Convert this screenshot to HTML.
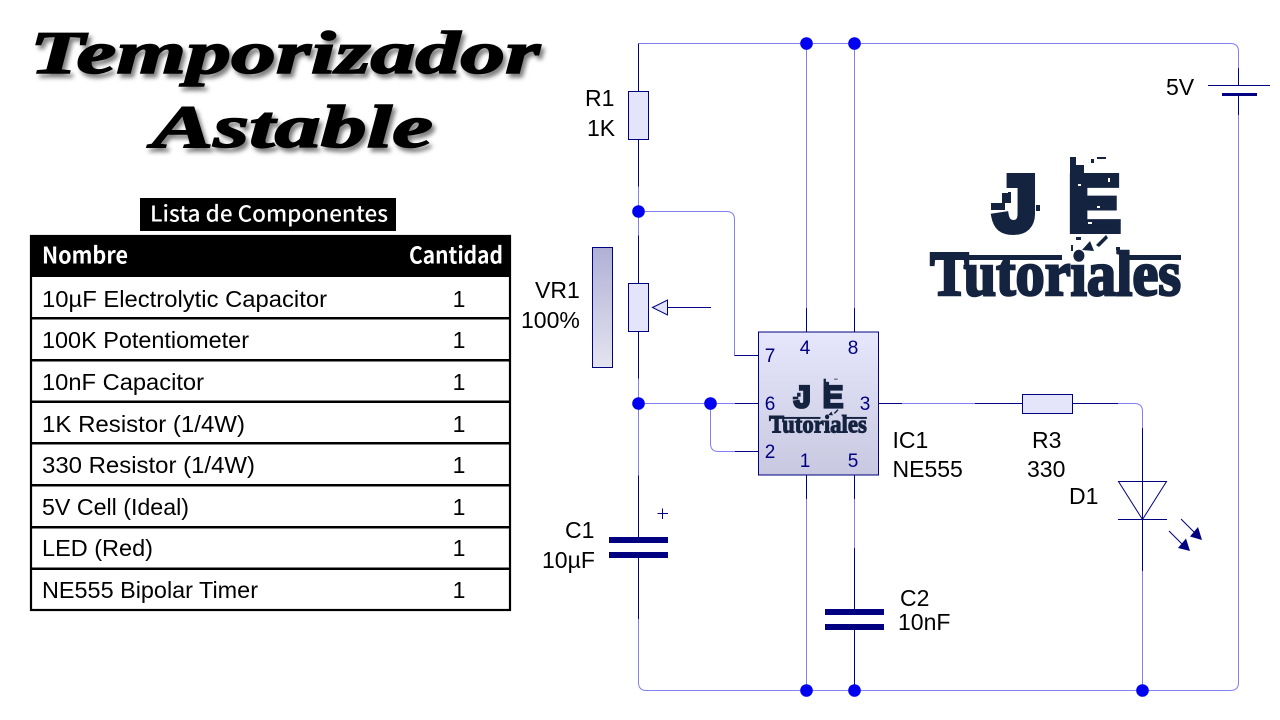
<!DOCTYPE html>
<html><head><meta charset="utf-8"><style>
html,body{margin:0;padding:0;background:#fff}
svg{display:block}
text{font-family:"Liberation Sans",sans-serif}
.l{font-size:23px;fill:#000}
.p{font-size:19px;fill:#000080;text-anchor:middle}
.t{font-size:23px;fill:#000}
.c{font-size:23px;fill:#000;text-anchor:middle}
.w{stroke:#8080f0;fill:none;stroke-width:1}
.n{stroke:#000080;fill:none;stroke-width:1}
.ttl{font-family:"Liberation Serif",serif;font-weight:bold;font-style:italic;font-size:60px;fill:#000;stroke:#000;stroke-width:1.5;filter:drop-shadow(3px 4px 2px rgba(0,0,0,.5))}
.h{font-family:"Noto Sans CJK JP","Liberation Sans",sans-serif;fill:#fff}
.lg{font-weight:bold;fill:#14233f;stroke:#14233f;stroke-width:6}
.lt{font-family:"Liberation Serif",serif;font-weight:bold;font-size:64px;fill:#14233f;stroke:#14233f;stroke-width:2.5}
</style></head><body>
<svg width="1280" height="720" viewBox="0 0 1280 720" xmlns="http://www.w3.org/2000/svg">
<defs>
<linearGradient id="ic" x1="0" y1="0" x2="0" y2="1"><stop offset="0" stop-color="#e6e6fc"/><stop offset="1" stop-color="#c8c8e0"/></linearGradient>
<linearGradient id="sl" x1="0" y1="0" x2="0" y2="1"><stop offset="0" stop-color="#b0b0d6"/><stop offset="1" stop-color="#e4e4f0"/></linearGradient>
</defs>
<rect width="1280" height="720" fill="#fff"/>

<!-- Title -->
<text class="ttl" x="30" y="73" textLength="510" lengthAdjust="spacingAndGlyphs">Temporizador</text>
<text class="ttl" x="152" y="147" textLength="281" lengthAdjust="spacingAndGlyphs">Astable</text>

<!-- Table -->
<rect x="140" y="198" width="256" height="33" fill="#000"/>
<text class="h" x="150" y="221.5" font-size="22" font-weight="500" textLength="238" lengthAdjust="spacingAndGlyphs">Lista de Componentes</text>
<rect x="30" y="235" width="481" height="42" fill="#000"/>
<text class="h" x="42" y="263.5" font-size="23" font-weight="700" textLength="86" lengthAdjust="spacingAndGlyphs">Nombre</text>
<text class="h" x="409" y="263.5" font-size="23" font-weight="700" textLength="94" lengthAdjust="spacingAndGlyphs">Cantidad</text>
<rect x="31" y="236" width="479" height="374" fill="none" stroke="#000" stroke-width="2.2"/>
<g fill="#000">
<rect x="30" y="317" width="481" height="2.5"/><rect x="30" y="359" width="481" height="2.5"/>
<rect x="30" y="400.5" width="481" height="2.5"/><rect x="30" y="442" width="481" height="2.5"/>
<rect x="30" y="484" width="481" height="2.5"/><rect x="30" y="526" width="481" height="2.5"/>
<rect x="30" y="567.5" width="481" height="2.5"/>
</g>
<text class="t" x="42" y="307" textLength="285" lengthAdjust="spacingAndGlyphs">10µF Electrolytic Capacitor</text><text class="c" x="459" y="307">1</text>
<text class="t" x="42" y="348" textLength="207" lengthAdjust="spacingAndGlyphs">100K Potentiometer</text><text class="c" x="459" y="348">1</text>
<text class="t" x="42" y="390" textLength="162" lengthAdjust="spacingAndGlyphs">10nF Capacitor</text><text class="c" x="459" y="390">1</text>
<text class="t" x="42" y="432" textLength="203" lengthAdjust="spacingAndGlyphs">1K Resistor (1/4W)</text><text class="c" x="459" y="432">1</text>
<text class="t" x="42" y="473" textLength="213" lengthAdjust="spacingAndGlyphs">330 Resistor (1/4W)</text><text class="c" x="459" y="473">1</text>
<text class="t" x="42" y="515" textLength="147" lengthAdjust="spacingAndGlyphs">5V Cell (Ideal)</text><text class="c" x="459" y="515">1</text>
<text class="t" x="42" y="556" textLength="111" lengthAdjust="spacingAndGlyphs">LED (Red)</text><text class="c" x="459" y="556">1</text>
<text class="t" x="42" y="598" textLength="216" lengthAdjust="spacingAndGlyphs">NE555 Bipolar Timer</text><text class="c" x="459" y="598">1</text>

<!-- Light wires -->
<path class="w" d="M638.5 43.5H1230.5Q1238.5 43.5 1238.5 51.5V68M1238.5 115V682.5Q1238.5 690.5 1230.5 690.5H646.5Q638.5 690.5 638.5 682.5V619M638.5 475.5V186.5"/>
<path class="w" d="M638.5 211.5H726.5Q734.5 211.5 734.5 219.5V355.5"/>
<path class="w" d="M638.5 403.5H735"/>
<path class="w" d="M710.5 403.5V443.5Q710.5 451.5 718.5 451.5H735"/>
<path class="w" d="M806.5 43.5V308M854.5 43.5V308M806.5 499V690.5M854.5 499V548"/>
<path class="w" d="M902 403.5H975M1118 403.5H1134.5Q1142.5 403.5 1142.5 411.5V428M1142.5 571V690.5"/>

<!-- Navy leads -->
<path class="n" d="M638.5 43.5V91.5M638.5 139.5V186.5"/>
<path class="n" d="M638.5 235.5V283.5M638.5 331.5V378.5"/>
<path class="n" d="M638.5 475.5V537M638.5 558V619"/>
<path class="n" d="M734.5 355.5H758M735 403.5H758M735 451.5H758"/>
<path class="n" d="M806.5 308V332M854.5 308V332M806.5 475V499M854.5 475V499"/>
<path class="n" d="M878 403.5H902M975 403.5H1022.5M1073 403.5H1118"/>
<path class="n" d="M854.5 548V609M854.5 630V690.5"/>
<path class="n" d="M1142.5 428V571"/>
<path class="n" d="M1238.5 68V85.5M1238.5 96V115"/>

<!-- Resistors -->
<rect x="628.5" y="91.5" width="20" height="48" fill="#e4e4fb" stroke="#000080"/>
<rect x="628.5" y="283.5" width="20" height="48" fill="#e4e4fb" stroke="#000080"/>
<rect x="1022.5" y="394.5" width="50" height="19" fill="#e4e4fb" stroke="#000080"/>

<!-- VR1 -->
<rect x="592.5" y="247.5" width="20" height="120" fill="url(#sl)" stroke="#000080"/>
<path d="M652.5 307.5L667.5 300V315Z" fill="#e4e4fb" stroke="#000080"/>
<path class="n" d="M667.5 307.5H711"/>

<!-- Capacitors -->
<g fill="#000080">
<rect x="609" y="537" width="59" height="6"/><rect x="609" y="552" width="59" height="6"/>
<rect x="825" y="609" width="59" height="6"/><rect x="825" y="624" width="59" height="6"/>
<rect x="1222" y="93" width="35" height="3"/>
</g>
<path class="n" d="M657.5 513.5H668M662.5 508.5V519M1208 85.5H1270"/>

<!-- LED -->
<path class="n" d="M1118.5 481.5H1166.5L1142.5 519.5ZM1118 519.5H1167"/>
<path class="n" d="M1181 519L1198 536M1169 531L1186 548"/>
<path d="M1202 540L1190 536.5L1198 527Z M1190 551L1178 548L1186 538.5Z" fill="#000080"/>

<!-- Junctions -->
<g fill="#0000f0">
<circle cx="806.5" cy="43.5" r="6.3"/><circle cx="854.5" cy="43.5" r="6.3"/>
<circle cx="638.5" cy="211.5" r="6.3"/><circle cx="638.5" cy="403.5" r="6.3"/>
<circle cx="710.5" cy="403.5" r="6.3"/><circle cx="806.5" cy="690.5" r="6.3"/>
<circle cx="854.5" cy="690.5" r="6.3"/><circle cx="1142.5" cy="690.5" r="6.3"/>
</g>

<!-- IC -->
<rect x="758.5" y="332" width="120" height="143" fill="url(#ic)" stroke="#000080"/>
<text class="p" x="770" y="362">7</text><text class="p" x="805" y="354">4</text><text class="p" x="853" y="354">8</text>
<text class="p" x="770" y="410">6</text><text class="p" x="865" y="410">3</text>
<text class="p" x="770" y="458">2</text><text class="p" x="805" y="467">1</text><text class="p" x="853" y="467">5</text>

<!-- Labels -->
<text class="l" x="585" y="106">R1</text><text class="l" x="587" y="136">1K</text>
<text class="l" x="535" y="298">VR1</text><text class="l" x="521" y="328">100%</text>
<text class="l" x="565" y="538">C1</text><text class="l" x="542" y="568">10µF</text>
<text class="l" x="900" y="606">C2</text><text class="l" x="898" y="630">10nF</text>
<text class="l" x="1166" y="95">5V</text>
<text class="l" x="892.5" y="448">IC1</text><text class="l" x="892.5" y="477">NE555</text>
<text class="l" x="1032" y="448">R3</text><text class="l" x="1027" y="477">330</text>
<text class="l" x="1069" y="504">D1</text>

<!-- Logo -->
<g>
<text class="lg" x="993" y="231" font-size="80">J</text>
<text class="lg" x="1067.5" y="231" font-size="80">E</text>
<text class="lt" x="930" y="295" textLength="251" lengthAdjust="spacingAndGlyphs">Tutoriales</text>
<g fill="#14233f">
<rect x="930" y="255" width="132" height="5"/><rect x="1125" y="255" width="56" height="5"/>
<rect x="1070" y="157" width="6" height="16"/><rect x="1076" y="165" width="8" height="8"/><rect x="1091" y="159" width="3" height="4"/><rect x="1097" y="157" width="9" height="2"/>
<rect x="991" y="203" width="14" height="7"/><rect x="1002" y="193" width="9" height="10"/><rect x="1008" y="192" width="3" height="6"/><rect x="1036" y="205" width="4" height="6"/>
<path d="M1082 250L1090 241L1094 251ZM1096 245L1106 235L1108 238L1099 247Z"/><rect x="1071" y="245" width="2" height="6"/><rect x="1116" y="247" width="4" height="3"/><rect x="1076" y="237" width="5" height="3"/>
</g>
<g fill="#fff">
<rect x="1078" y="184" width="3" height="2"/><rect x="1108" y="178" width="2" height="4"/><rect x="1097" y="206" width="3" height="2"/><rect x="1088" y="222" width="4" height="2"/><rect x="1005" y="207" width="3" height="2"/>
</g>
</g>
<g transform="translate(406.3,317.5) scale(.39)">
<text class="lg" x="993" y="231" font-size="80">J</text>
<text class="lg" x="1067.5" y="231" font-size="80">E</text>
<text class="lt" x="930" y="295" textLength="251" lengthAdjust="spacingAndGlyphs">Tutoriales</text>
<g fill="#14233f">
<rect x="930" y="255" width="132" height="5"/><rect x="1125" y="255" width="56" height="5"/>
<rect x="1070" y="157" width="6" height="16"/><rect x="1076" y="165" width="8" height="8"/><rect x="1097" y="157" width="9" height="2"/>
<rect x="991" y="203" width="14" height="7"/><rect x="1002" y="193" width="9" height="10"/>
<path d="M1082 250L1090 241L1094 251ZM1096 245L1106 235L1108 238L1099 247Z"/>
</g>
</g>
</svg>
</body></html>
